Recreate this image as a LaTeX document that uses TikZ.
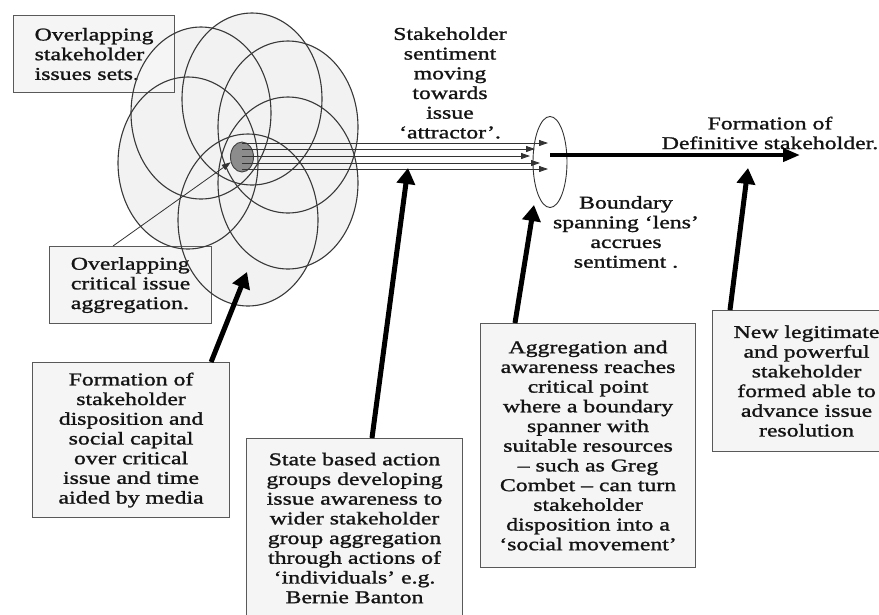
\documentclass[tikz,border=0pt]{standalone}
\usepackage{fontspec}
\setmainfont{Liberation Serif}[FakeStretch=1.32,FakeBold=1.3]
\usetikzlibrary{arrows.meta,shapes.geometric}
\begin{document}
\begin{tikzpicture}[x=1pt,y=-1pt,
  txt/.style={font=\fontsize{18}{19.7}\selectfont, text=black!92, align=center, inner sep=0pt},
  box/.style={txt, rectangle, draw=black!65, line width=1.1pt, fill=black!4, anchor=north west},
  ellfill/.style={fill=black!5},
  elldraw/.style={draw=black!78, line width=1.1pt},
  bigarrow/.style={line width=5pt, black, -{Triangle[length=16pt,width=18pt]}},
  mainarrow/.style={line width=4pt, black, -{Triangle[length=17pt,width=13pt]}},
  thinarrow/.style={line width=0.8pt, black!80, -{Triangle[length=9pt,width=6pt]}}
]
\useasboundingbox (0,0) rectangle (879,614);
\clip (0,0) rectangle (879,614);

% ellipse fills
\foreach \cx/\cy in {201/113,252/99,288/127,288/183,248/220,188/163}
  \fill[ellfill] (\cx,\cy) ellipse [x radius=70, y radius=86];

% boxes
\node[box, align=left, minimum width=161, minimum height=77] (sets) at (13,15)
  {Overlapping\\stakeholder\\issues sets.};
\node[box, align=left, minimum width=162, minimum height=77] (crit) at (49,246)
  {Overlapping\\critical issue\\aggregation.};
\node[box, minimum width=197, minimum height=155] (form) at (32,362)
  {Formation of\\stakeholder\\disposition and\\social capital\\over critical\\issue and time\\aided by media};
\node[box, minimum width=216, minimum height=179] (state) at (246,438)
  {State based action\\groups developing\\issue awareness to\\wider stakeholder\\group aggregation\\through actions of\\‘individuals’ e.g.\\Bernie Banton};
\node[box, minimum width=215, minimum height=244] (agg) at (480,323)
  {Aggregation and\\awareness reaches\\critical point\\where a boundary\\spanner with\\suitable resources\\– such as Greg\\Combet – can turn\\stakeholder\\disposition into a\\‘social movement’};
\node[box, minimum width=188, minimum height=141] (new) at (712,310)
  {New legitimate\\and powerful\\stakeholder\\formed able to\\advance issue\\resolution};

% ellipse outlines
\foreach \cx/\cy in {201/113,252/99,288/127,288/183,248/220,188/163}
  \draw[elldraw] (\cx,\cy) ellipse [x radius=70, y radius=86];

% free texts
\node[txt] (senti) at (450,83) {Stakeholder\\sentiment\\moving\\towards\\issue\\‘attractor’.};
\node[txt] (bound) at (626,232) {Boundary\\spanning ‘lens’\\accrues\\sentiment .};
\node[txt] (defin) at (770,133) {Formation of\\Definitive stakeholder.};

% attractor dot and lens
\node[ellipse, draw=black!75, line width=0.9pt, fill=black!45, minimum width=23, minimum height=30, inner sep=0pt] (dot) at (242,157) {};
\node[ellipse, draw=black!80, line width=0.9pt, minimum width=34, minimum height=91, inner sep=0pt] (lens) at (550,162) {};

% sentiment lines
\coordinate (t1) at (548,143);
\coordinate (t2) at (535,149);
\coordinate (t3) at (530,156);
\coordinate (t4) at (540,163);
\coordinate (t5) at (548,169);
\foreach \t in {t1,t2,t3,t4,t5}
  \draw[thinarrow] (dot.center |- \t) -- (\t);

% critical issue pointer
\draw[thinarrow] ([xshift=64pt]crit.north west) -- (dot.205);

% main arrow
\coordinate (defend) at (800,155);
\draw[mainarrow] (lens.center |- defend) -- (defend);

% big arrows
\coordinate (a1) at (247,272);
\coordinate (a2) at (408,168);
\coordinate (a3) at (534,205);
\coordinate (a4) at (748,168);
\draw[bigarrow] ([xshift=-19pt]form.north east) -- (a1);
\draw[bigarrow] ([xshift=126pt]state.north west) -- (a2);
\draw[bigarrow] ([xshift=35pt]agg.north west) -- (a3);
\draw[bigarrow] ([xshift=18pt]new.north west) -- (a4);
\end{tikzpicture}
\end{document}
